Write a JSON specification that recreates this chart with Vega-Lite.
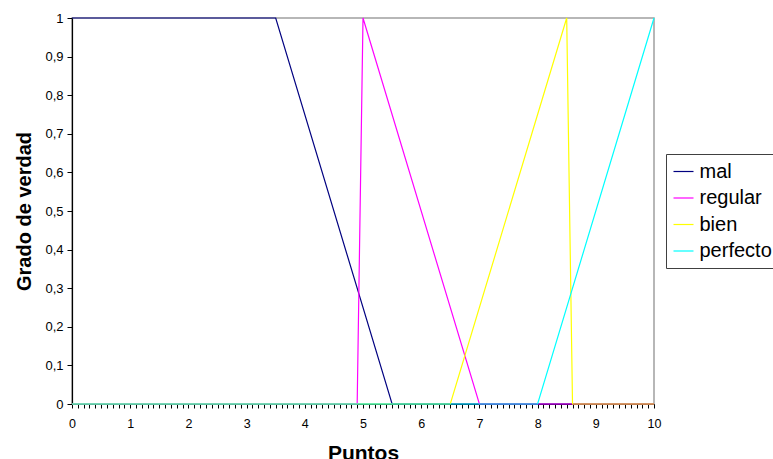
{
  "$schema": "https://vega.github.io/schema/vega-lite/v6.json",
  "width": 582,
  "height": 386,
  "autosize": "none",
  "padding": {"left": 72, "top": 18, "right": 119, "bottom": 55},
  "background": "#ffffff",
  "view": {"stroke": "#a0a0a0", "strokeWidth": 1.5},
  "config": {
    "font": "Liberation Sans",
    "axis": {"labelFont": "Liberation Sans", "titleFont": "Liberation Sans"}
  },
  "data": {
    "values": [
      {"serie": "mal", "puntos": 0, "grado": 1},
      {"serie": "mal", "puntos": 3.5, "grado": 1},
      {"serie": "mal", "puntos": 5.5, "grado": 0},
      {"serie": "mal", "puntos": 10, "grado": 0},
      {"serie": "regular", "puntos": 0, "grado": 0},
      {"serie": "regular", "puntos": 4.9, "grado": 0},
      {"serie": "regular", "puntos": 5, "grado": 1},
      {"serie": "regular", "puntos": 7, "grado": 0},
      {"serie": "regular", "puntos": 10, "grado": 0},
      {"serie": "bien", "puntos": 0, "grado": 0},
      {"serie": "bien", "puntos": 6.5, "grado": 0},
      {"serie": "bien", "puntos": 8.5, "grado": 1},
      {"serie": "bien", "puntos": 8.6, "grado": 0},
      {"serie": "bien", "puntos": 10, "grado": 0},
      {"serie": "perfecto", "puntos": 0, "grado": 0},
      {"serie": "perfecto", "puntos": 8, "grado": 0},
      {"serie": "perfecto", "puntos": 10, "grado": 1}
    ]
  },
  "mark": {"type": "line", "strokeWidth": 1.2},
  "encoding": {
    "x": {
      "field": "puntos",
      "type": "quantitative",
      "scale": {"domain": [0, 10], "nice": false, "zero": false},
      "axis": {
        "title": "Puntos",
        "titleFontSize": 21,
        "titleFontWeight": "bold",
        "titleColor": "#000000",
        "titlePadding": 13,
        "grid": false,
        "domainColor": "#000000",
        "domainWidth": 1.2,
        "tickColor": "#000000",
        "tickSize": 4,
        "labelFontSize": 12.5,
        "labelColor": "#000000",
        "labelPadding": 9,
        "labelOverlap": false,
        "labelFlush": false,
        "values": [0, 0.1, 0.2, 0.3, 0.4, 0.5, 0.6, 0.7, 0.8, 0.9, 1, 1.1, 1.2, 1.3, 1.4, 1.5, 1.6, 1.7, 1.8, 1.9, 2, 2.1, 2.2, 2.3, 2.4, 2.5, 2.6, 2.7, 2.8, 2.9, 3, 3.1, 3.2, 3.3, 3.4, 3.5, 3.6, 3.7, 3.8, 3.9, 4, 4.1, 4.2, 4.3, 4.4, 4.5, 4.6, 4.7, 4.8, 4.9, 5, 5.1, 5.2, 5.3, 5.4, 5.5, 5.6, 5.7, 5.8, 5.9, 6, 6.1, 6.2, 6.3, 6.4, 6.5, 6.6, 6.7, 6.8, 6.9, 7, 7.1, 7.2, 7.3, 7.4, 7.5, 7.6, 7.7, 7.8, 7.9, 8, 8.1, 8.2, 8.3, 8.4, 8.5, 8.6, 8.7, 8.8, 8.9, 9, 9.1, 9.2, 9.3, 9.4, 9.5, 9.6, 9.7, 9.8, 9.9, 10],
        "labelExpr": "datum.value % 1 == 0 ? format(datum.value, 'd') : ''"
      }
    },
    "y": {
      "field": "grado",
      "type": "quantitative",
      "scale": {"domain": [0, 1], "nice": false},
      "axis": {
        "title": "Grado de verdad",
        "titleFontSize": 20,
        "titleFontWeight": "bold",
        "titleColor": "#000000",
        "titlePadding": 10,
        "grid": false,
        "domainColor": "#000000",
        "domainWidth": 1.2,
        "tickColor": "#000000",
        "tickSize": 5,
        "labelFontSize": 13,
        "labelColor": "#000000",
        "labelPadding": 4,
        "values": [0, 0.1, 0.2, 0.3, 0.4, 0.5, 0.6, 0.7, 0.8, 0.9, 1],
        "labelExpr": "datum.value == 0 || datum.value == 1 ? format(datum.value, 'd') : replace(format(datum.value, '.1f'), '.', ',')"
      }
    },
    "color": {
      "field": "serie",
      "type": "nominal",
      "sort": ["mal", "regular", "bien", "perfecto"],
      "scale": {
        "domain": ["mal", "regular", "bien", "perfecto"],
        "range": ["#000080", "#ff00ff", "#ffff00", "#00ffff"]
      },
      "legend": {
        "title": null,
        "orient": "none",
        "legendX": 594,
        "legendY": 136,
        "symbolType": "stroke",
        "symbolSize": 400,
        "symbolStrokeWidth": 1.2,
        "labelFontSize": 20,
        "labelColor": "#000000",
        "labelOffset": 5,
        "rowPadding": 5.5,
        "padding": 6.5,
        "strokeColor": "#404040",
        "fillColor": "#ffffff",
        "labelLimit": 200
      }
    }
  }
}
